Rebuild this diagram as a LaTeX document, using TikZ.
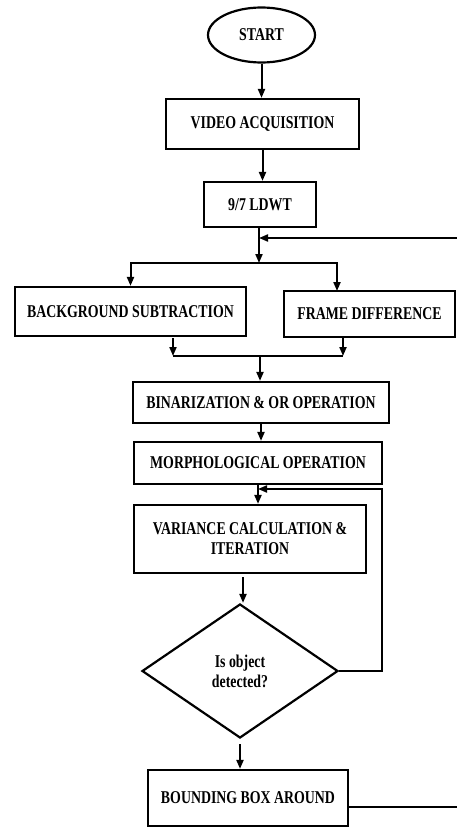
\documentclass[tikz,border=0pt]{standalone}
\usepackage{fontspec}
\setmainfont{Liberation Serif}[FakeStretch=0.77]
\usetikzlibrary{shapes.geometric,arrows.meta}
\begin{document}
\begin{tikzpicture}[x=1pt,y=-1pt,
  every node/.style={font=\bfseries\fontsize{18}{20}\selectfont, align=center, inner sep=0pt},
  box/.style={draw, line width=2.2pt, rectangle},
  arr/.style={line width=2pt, -{Triangle[length=9pt,width=7pt]}},
  ln/.style={line width=2pt}]
\useasboundingbox (0,0) rectangle (456,829);
\node[draw, line width=2.2pt, ellipse, minimum width=107pt, minimum height=55pt] (start) at (261.5,35) {START};
\node[box, minimum width=193pt, minimum height=50pt] (vid) at (262.5,124) {VIDEO ACQUISITION};
\node[box, minimum width=112pt, minimum height=45pt] (ldwt) at (260,204.5) {9/7 LDWT};
\node[box, minimum width=231pt, minimum height=49pt] (bg) at (130.5,311.5) {BACKGROUND SUBTRACTION};
\node[box, minimum width=171pt, minimum height=46pt] (fd) at (369.5,314) {FRAME DIFFERENCE};
\node[box, minimum width=256pt, minimum height=41pt] (bin) at (261,402.5) {BINARIZATION \& OR OPERATION};
\node[box, minimum width=248pt, minimum height=42pt] (morph) at (258,463) {MORPHOLOGICAL OPERATION};
\node[box, minimum width=232pt, minimum height=68pt] (var) at (250,539) {VARIANCE CALCULATION \&\\ITERATION};
\node[draw, line width=2.2pt, diamond, shape aspect=1.46, minimum width=196pt, minimum height=134pt] (dia) at (240,671) {Is object\\detected?};
\node[box, minimum width=200pt, minimum height=56pt] (bb) at (248,798) {BOUNDING BOX AROUND};

\coordinate (fb) at (259,238);
\coordinate (split) at (259,263);
\coordinate (fdin) at (337,291);
\coordinate (bgout) at (173,338);
\coordinate (bgm) at (173,356);
\coordinate (fdout) at (343,338);
\coordinate (fdm) at (343,356);
\coordinate (m) at (260,356);
\coordinate (j2) at (258,489);
\coordinate (vo) at (243,577);

\draw[arr] (start.south) -- (start.south |- vid.north);
\draw[arr] (vid.south) -- (vid.south |- ldwt.north);
\draw[ln] (ldwt.south -| fb) -- (fb);
\draw[arr] (fb) -- (split);
\draw[arr] (split) -| (bg.north);
\draw[arr] (split) -| (fdin);
\draw[arr] (bgout) -- (bgm);
\draw[arr] (fdout) -- (fdm);
\draw[ln] (bgm) -- (fdm);
\draw[arr] (m) -- (m |- bin.north);
\draw[arr] (bin.south) -- (bin.south |- morph.north);
\draw[arr] (morph.south) -- (morph.south |- var.north);
\draw[arr] (dia.east) -- ++(43,0) |- (j2);
\draw[arr] (vo) -- (vo |- dia.north);
\draw[arr] ([yshift=-5pt]dia.south) -- (bb.north -| dia.south);
\draw[arr] ([yshift=-9pt]bb.east) -- ++(114,0) |- (fb);
\end{tikzpicture}
\end{document}
